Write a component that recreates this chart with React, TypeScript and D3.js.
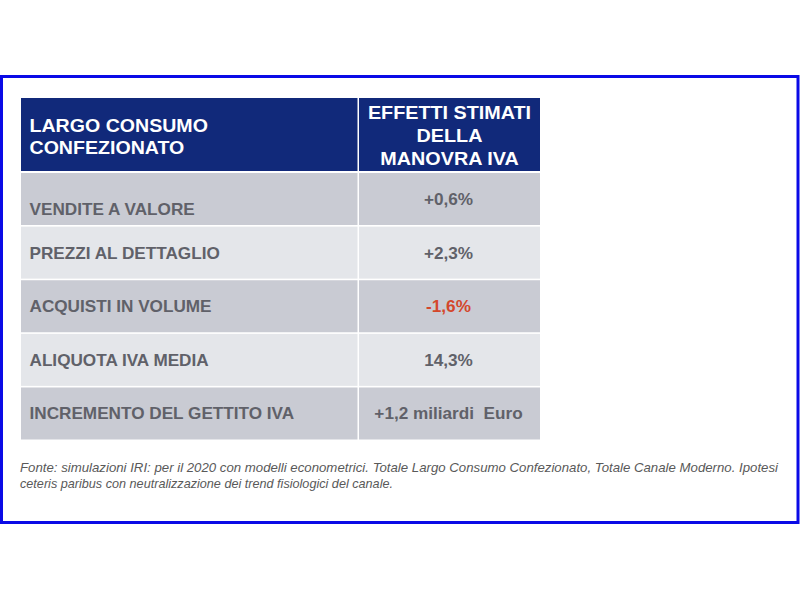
import React from "react";
import * as d3 from "d3";

const headerLeft = ["LARGO CONSUMO", "CONFEZIONATO"];
const headerRight = ["EFFETTI STIMATI", "DELLA", "MANOVRA IVA"];
const rowLabels = [
  "VENDITE A VALORE",
  "PREZZI AL DETTAGLIO",
  "ACQUISTI IN VOLUME",
  "ALIQUOTA IVA MEDIA",
  "INCREMENTO DEL GETTITO IVA",
];
const rowValues = ["+0,6%", "+2,3%", "-1,6%", "14,3%", "+1,2 miliardi\u00a0 Euro"];
const negativeRows = [false, false, true, false, false];
const footnote = [
  "Fonte: simulazioni IRI: per il 2020 con modelli econometrici. Totale Largo Consumo Confezionato, Totale Canale Moderno. Ipotesi",
  "ceteris paribus con neutralizzazione dei trend fisiologici del canale.",
];

const W = 800;
const H = 600;
const FONT = "'Liberation Sans', Arial, Helvetica, sans-serif";
const NAVY = "#11297a";
const DARK = "#c9cbd3";
const LIGHT = "#e4e6ea";
const TEXT = "#606169";
const RED = "#d4472b";

export default function App() {
  const tableLeft = 21;
  const tableRight = 540;
  const colX = d3
    .scaleOrdinal<string, number>()
    .domain(["label", "value"])
    .range([tableLeft, 359]);
  const colW = { label: 359 - tableLeft - 1.5, value: tableRight - 359 };
  const headerTop = 98;
  const headerBottom = 171;
  const rowY = d3
    .scaleBand<string>()
    .domain(rowLabels)
    .range([173, 439.5])
    .paddingInner(0.03)
    .paddingOuter(0);
  const bw = rowY.bandwidth();
  const valueCenter = 359 + colW.value / 2 - 1;

  return (
    <svg
      width={W}
      height={H}
      style={{ position: "absolute", left: 0, top: 0, background: "#fff" }}
      fontFamily={FONT}
    >
      <rect x={0} y={0} width={W} height={H} fill="#fff" />
      <rect x={1.5} y={76.5} width={796.5} height={446} fill="#fff" stroke="#0a0ae6" strokeWidth={3} />

      {/* header */}
      <rect x={colX("label")} y={headerTop} width={colW.label} height={headerBottom - headerTop} fill={NAVY} />
      <rect x={colX("value")} y={headerTop} width={colW.value} height={headerBottom - headerTop} fill={NAVY} />
      {headerLeft.map((t, i) => (
        <text
          key={t}
          transform={`translate(29.5,${131.5 + i * 22}) scale(1.12,1)`}
          fill="#fff"
          fontWeight="bold"
          fontSize={17.5}
        >
          {t}
        </text>
      ))}
      {headerRight.map((t, i) => (
        <text
          key={t}
          transform={`translate(449.5,${119 + i * 23}) scale(1.13,1)`}
          fill="#fff"
          fontWeight="bold"
          fontSize={17.5}
          textAnchor="middle"
        >
          {t}
        </text>
      ))}

      {/* rows */}
      {rowLabels.map((label, i) => {
        const y = rowY(label)!;
        const fill = i % 2 === 0 ? DARK : LIGHT;
        const mid = y + bw / 2;
        const labelBase = i === 0 ? y + bw - 10 : mid + 6;
        return (
          <g key={label}>
            <rect x={colX("label")} y={y} width={colW.label} height={bw} fill={fill} />
            <rect x={colX("value")} y={y} width={colW.value} height={bw} fill={fill} />
            <text
              transform={`translate(29.5,${labelBase}) scale(1.04,1)`}
              fill={TEXT}
              fontWeight="bold"
              fontSize={16.5}
            >
              {label}
            </text>
            <text
              transform={`translate(${valueCenter},${mid + 6}) scale(1.04,1)`}
              fill={negativeRows[i] ? RED : TEXT}
              fontWeight="bold"
              fontSize={16.5}
              textAnchor="middle"
            >
              {rowValues[i]}
            </text>
          </g>
        );
      })}

      {/* footnote */}
      <text x={20} y={472} fontSize={13} fontStyle="italic" fill="#595959" textLength={758} lengthAdjust="spacingAndGlyphs">
        {footnote[0]}
      </text>
      <text x={20} y={488} fontSize={13} fontStyle="italic" fill="#595959" textLength={373} lengthAdjust="spacingAndGlyphs">
        {footnote[1]}
      </text>
    </svg>
  );
}
